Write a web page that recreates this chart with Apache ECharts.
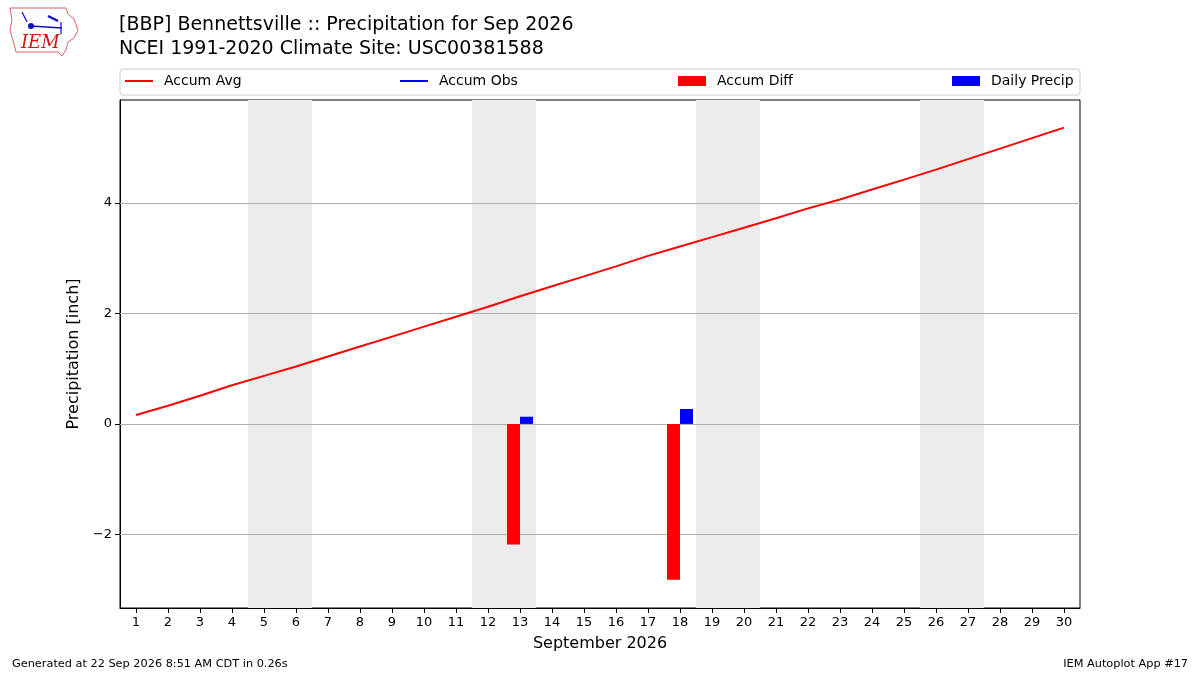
<!DOCTYPE html>
<html>
<head>
<meta charset="utf-8">
<title>Precipitation for Sep 2026</title>
<script src="https://cdn.jsdelivr.net/npm/echarts@6/dist/echarts.min.js"></script>
<style>
html,body{margin:0;padding:0;background:#fff;}
#chart{width:1200px;height:675px;}
</style>
</head>
<body>
<div id="chart"></div>
<script>
// days of month, climatology accumulation (inch)
var days = [1,2,3,4,5,6,7,8,9,10,11,12,13,14,15,16,17,18,19,20,21,22,23,24,25,26,27,28,29,30];
var accumAvg = [0.16,0.33,0.51,0.70,0.87,1.04,1.22,1.40,1.58,1.76,1.94,2.12,2.31,2.49,2.67,2.85,3.04,3.21,3.38,3.55,3.72,3.90,4.06,4.24,4.42,4.60,4.79,4.98,5.17,5.36];
// observed days only
var obsDays = [13,18];
var accumObs = [0.13,0.40];
var accumDiff = [-2.18,-2.82];
var dailyPrecip = [0.13,0.27];
var weekendStart = [4.5,11.5,18.5,25.5];
var weekendEnd = [6.5,13.5,20.5,27.5];
var yTicks = [-2,0,2,4];
var FONT = "DejaVu Sans";

function pairs(xs,ys){
	var out = [];
	for(var i=0;i<xs.length;i++){
		out.push([xs[i],ys[i]]);
	}
	return out;
}

function obsLine(){
	var out = [];
	for(var i=0;i<days.length;i++){
		var k = obsDays.indexOf(days[i]);
		out.push([days[i], k>=0 ? accumObs[k] : null]);
	}
	return out;
}

function weekendAreas(){
	var out = [];
	for(var i=0;i<weekendStart.length;i++){
		out.push([{xAxis:weekendStart[i]},{xAxis:weekendEnd[i]}]);
	}
	return out;
}

function gridLines(){
	var out = [];
	for(var i=0;i<yTicks.length;i++){
		out.push({yAxis:yTicks[i]});
	}
	return out;
}

function legendAt(name,left,icon,w,h){
	return {
		data:[{name:name,icon:icon}],
		left:left, top:74, padding:0,
		itemWidth:w, itemHeight:h,
		textStyle:{fontFamily:FONT,fontSize:14,color:"#000",padding:[0,0,0,6]},
		selectedMode:false
	};
}

var option = {
	animation:false,
	backgroundColor:"#fff",
	title:{
		text:"[BBP] Bennettsville :: Precipitation for Sep 2026\nNCEI 1991-2020 Climate Site: USC00381588",
		left:114, top:8,
		textStyle:{fontFamily:FONT,fontSize:19,fontWeight:"normal",color:"#000",lineHeight:24}
	},
	legend:[
		legendAt("Accum Avg",125,"rect",28,2),
		legendAt("Accum Obs",400,"rect",28,2),
		legendAt("Accum Diff",678,"rect",28,10),
		legendAt("Daily Precip",952,"rect",28,10)
	],
	grid:{left:120,right:120,top:100,bottom:67,show:true,borderColor:"#000",borderWidth:1,backgroundColor:"transparent"},
	xAxis:{
		type:"value", min:0.5, max:30.5,
		name:"September 2026", nameLocation:"middle", nameGap:28,
		nameTextStyle:{fontFamily:FONT,fontSize:16,color:"#000"},
		axisLine:{show:true,onZero:false,lineStyle:{color:"#000"}},
		axisTick:{show:true,inside:false,length:5,customValues:days,lineStyle:{color:"#000"}},
		axisLabel:{customValues:days,fontFamily:FONT,fontSize:13,color:"#000",margin:8},
		splitLine:{show:false}
	},
	yAxis:{
		type:"value", min:-3.33, max:5.86,
		name:"Precipitation [inch]", nameLocation:"middle", nameGap:37,
		nameTextStyle:{fontFamily:FONT,fontSize:16,color:"#000"},
		axisLine:{show:true,onZero:false,lineStyle:{color:"#000"}},
		axisTick:{show:true,inside:false,length:5,customValues:yTicks,lineStyle:{color:"#000"}},
		axisLabel:{customValues:yTicks,fontFamily:FONT,fontSize:13,color:"#000",margin:8,
			formatter:function(v){ return String(v).replace("-","\u2212"); }},
		splitLine:{show:false}
	},
	series:[
		{
			name:"Accum Avg", type:"line", z:3,
			data:pairs(days,accumAvg),
			symbol:"none", color:"#ff0000",
			lineStyle:{width:2,color:"#ff0000"},
			markArea:{silent:true,z:1,itemStyle:{color:"#ececec"},data:weekendAreas()},
			markLine:{silent:true,z:2,symbol:"none",label:{show:false},
				lineStyle:{color:"#b0b0b0",width:1,type:"solid"},data:gridLines()}
		},
		{
			name:"Accum Obs", type:"line", z:3,
			data:obsLine(), connectNulls:false,
			symbol:"none", color:"#0000ff",
			lineStyle:{width:2,color:"#0000ff"}
		},
		{
			name:"Accum Diff", type:"bar", z:4,
			data:pairs(obsDays,accumDiff),
			barWidth:13, barGap:"0%",
			itemStyle:{color:"#ff0000"}
		},
		{
			name:"Daily Precip", type:"bar", z:4,
			data:pairs(obsDays,dailyPrecip),
			barWidth:13, barGap:"0%",
			itemStyle:{color:"#0000ff"}
		}
	],
	graphic:[
		{type:"rect",shape:{x:120,y:69,width:960,height:26,r:3},
			style:{fill:"none",stroke:"#cccccc",lineWidth:1},z:0},
		// IEM logo, roughly
		{type:"polygon",shape:{points:[[10,8],[66,8],[68,14],[74,19],[78,30],[74,38],[68,42],[66,50],[62,56],[58,52],[16,52],[14,44],[10,30],[12,20]]},
			style:{fill:"#fff",stroke:"#e06060",lineWidth:1}},
		{type:"line",shape:{x1:31,y1:26,x2:62,y2:28},style:{stroke:"#1010c0",lineWidth:1.5}},
		{type:"circle",shape:{cx:31,cy:26,r:3},style:{fill:"#1010c0"}},
		{type:"line",shape:{x1:48,y1:16,x2:58,y2:21},style:{stroke:"#1010c0",lineWidth:2.5}},
		{type:"line",shape:{x1:22,y1:12,x2:27,y2:22},style:{stroke:"#1010c0",lineWidth:1.2}},
		{type:"line",shape:{x1:61,y1:22,x2:61,y2:34},style:{stroke:"#1010c0",lineWidth:1.2}},
		{type:"text",left:21,top:34,style:{text:"IEM",font:"italic 18px 'DejaVu Serif'",fill:"#d01818"}},
		// footer
		{type:"text",left:12,top:659,style:{text:"Generated at 22 Sep 2026 8:51 AM CDT in 0.26s",font:"11.3px 'DejaVu Sans'",fill:"#000"}},
		{type:"text",right:12,top:659,style:{text:"IEM Autoplot App #17",font:"11.3px 'DejaVu Sans'",fill:"#000"}}
	]
};

var chart = echarts.init(document.getElementById("chart"));
chart.setOption(option);
</script>
</body>
</html>
